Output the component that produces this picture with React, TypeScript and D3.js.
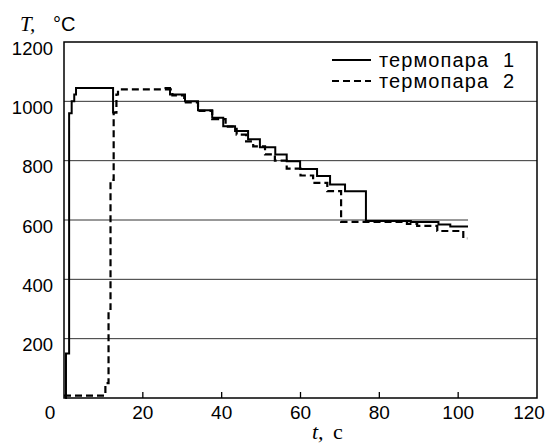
import React, { useEffect, useRef } from 'react';
import * as d3 from 'd3';

// thermocouple 1 (solid): step points, value holds from each time on
const tc1Time = [0.3, 0.5, 1.3, 1.95, 2.6, 3.05, 12.45, 12.9, 12.95, 25.5, 26.9, 30.7, 34.0, 37.6, 40.4, 43.4, 46.7, 49.7, 53.6, 56.5, 59.9, 64.2, 67.5, 71.3, 76.6, 88, 95, 98, 102.5];
const tc1Temp = [0, 150, 960, 1000, 1023, 1045, 962, 962, NaN, 1045, 1023, 1000, 970, 945, 916, 900, 872, 845, 821, 798, 772, 748, 720, 697, 597, 593, 585, 578, 578];

// thermocouple 2 (dashed)
const tc2Time = [0, 10.5, 11.3, 11.8, 12.6, 13.3, 13.7, 27.5, 30.5, 34.0, 37.6, 41.0, 43.8, 46.2, 48.0, 51.0, 53.5, 56.5, 60.0, 63.2, 66.8, 70.3, 87.0, 89.6, 94.7, 101.3, 102.3];
const tc2Temp = [8, 50, 300, 735, 962, 1023, 1040, 1020, 996, 968, 940, 915, 888, 865, 848, 821, 800, 773, 750, 725, 697, 594, 587, 580, 563, 538, 538];

const xTicks = [0, 20, 40, 60, 80, 100, 120];
const yTicks = [200, 400, 600, 800, 1000, 1200];
const gridLevels = [200, 400, 600, 800, 1000];
const gridEnds = [120, 120, 102.5, 120, 120];
const legendWord = 'термопара';
const legendNums = ['1', '2'];

const W = 548;
const H = 444;

export default function App() {
  const svgRef = useRef<SVGSVGElement>(null);

  useEffect(() => {
    const margin = { top: 42, right: 11, bottom: 46, left: 64 };
    const innerW = W - margin.left - margin.right;
    const innerH = H - margin.top - margin.bottom;
    const sans = '"Liberation Sans", Arial, sans-serif';
    const serif = '"Liberation Serif", "Times New Roman", serif';

    const svg = d3.select(svgRef.current);
    svg.selectAll('*').remove();
    svg.append('rect').attr('width', W).attr('height', H).attr('fill', '#fff');

    const g = svg.append('g').attr('transform', `translate(${margin.left},${margin.top})`);

    const x = d3.scaleLinear().domain([0, 120]).range([0, innerW]);
    const y = d3.scaleLinear().domain([0, 1200]).range([innerH, 0]);

    // Grid
    g.selectAll('.grid').data(gridLevels).join('line').attr('class', 'grid')
      .attr('x1', 0).attr('x2', (d, i) => x(gridEnds[i]))
      .attr('y1', d => y(d)).attr('y2', d => y(d))
      .attr('stroke', '#333').attr('stroke-width', 1);

    // x ticks (inward)
    g.selectAll('.xtick').data(xTicks.slice(1, -1)).join('line').attr('class', 'xtick')
      .attr('x1', d => x(d)).attr('x2', d => x(d))
      .attr('y1', innerH).attr('y2', innerH - 6)
      .attr('stroke', '#000').attr('stroke-width', 1.3);

    // Lines
    const s1 = tc1Time.map((t, i) => ({ t, v: tc1Temp[i] }));
    const s2 = tc2Time.map((t, i) => ({ t, v: tc2Temp[i] }));
    const line = d3.line<{ t: number; v: number }>()
      .defined(d => !isNaN(d.v))
      .x(d => x(d.t)).y(d => y(d.v))
      .curve(d3.curveStepAfter);

    g.append('path').datum(s2).attr('fill', 'none').attr('stroke', '#000')
      .attr('stroke-width', 2.2).attr('stroke-dasharray', '7 4').attr('d', line);
    g.append('path').datum(s1).attr('fill', 'none').attr('stroke', '#000')
      .attr('stroke-width', 2).attr('d', line);

    // Frame
    g.append('rect').attr('width', innerW).attr('height', innerH)
      .attr('fill', 'none').attr('stroke', '#000').attr('stroke-width', 1.5);

    // Tick labels
    const labelShift: Record<number, number> = { 0: -14, 120: -8 };
    g.selectAll('.xlab').data(xTicks).join('text').attr('class', 'xlab')
      .attr('x', d => x(d) + (labelShift[d] || 0)).attr('y', innerH + 21)
      .attr('text-anchor', 'middle').attr('font-family', sans).attr('font-size', 19)
      .attr('fill', '#000').text(d => d);
    g.selectAll('.ylab').data(yTicks).join('text').attr('class', 'ylab')
      .attr('x', -11).attr('y', d => y(d) + 12.5)
      .attr('text-anchor', 'end').attr('font-family', sans).attr('font-size', 18.5)
      .attr('fill', '#000').text(d => d);

    // Axis titles
    svg.append('text').attr('x', 20).attr('y', 31).attr('font-size', 21).attr('fill', '#000')
      .attr('font-family', serif).attr('font-style', 'italic').text('T,');
    svg.append('text').attr('x', 53).attr('y', 31).attr('font-size', 20).attr('fill', '#000')
      .attr('font-family', sans).text('°C');

    svg.append('text').attr('x', 312).attr('y', 439).attr('font-size', 22).attr('fill', '#000')
      .attr('font-family', serif).attr('font-style', 'italic').text('t,');
    svg.append('text').attr('x', 333).attr('y', 439).attr('font-size', 22).attr('fill', '#000')
      .attr('font-family', serif).text('с');

    // Legend
    const lg = svg.append('g');
    legendNums.forEach((num, i) => {
      const ly = 60 + i * 21;
      lg.append('line').attr('x1', 332).attr('x2', 371).attr('y1', ly).attr('y2', ly)
        .attr('stroke', '#000').attr('stroke-width', 2)
        .attr('stroke-dasharray', i === 1 ? '7 4' : null);
      lg.append('text').attr('x', 379).attr('y', ly + 7).attr('font-family', sans)
        .attr('font-size', 20).attr('fill', '#000')
        .attr('textLength', 109).attr('lengthAdjust', 'spacing').text(legendWord);
      lg.append('text').attr('x', 503).attr('y', ly + 7).attr('font-family', sans)
        .attr('font-size', 20).attr('fill', '#000').text(num);
    });
  }, []);

  return (
    <div style={{ position: 'absolute', left: 0, top: 0 }}>
      <svg ref={svgRef} width={W} height={H} style={{ display: 'block' }} />
    </div>
  );
}
